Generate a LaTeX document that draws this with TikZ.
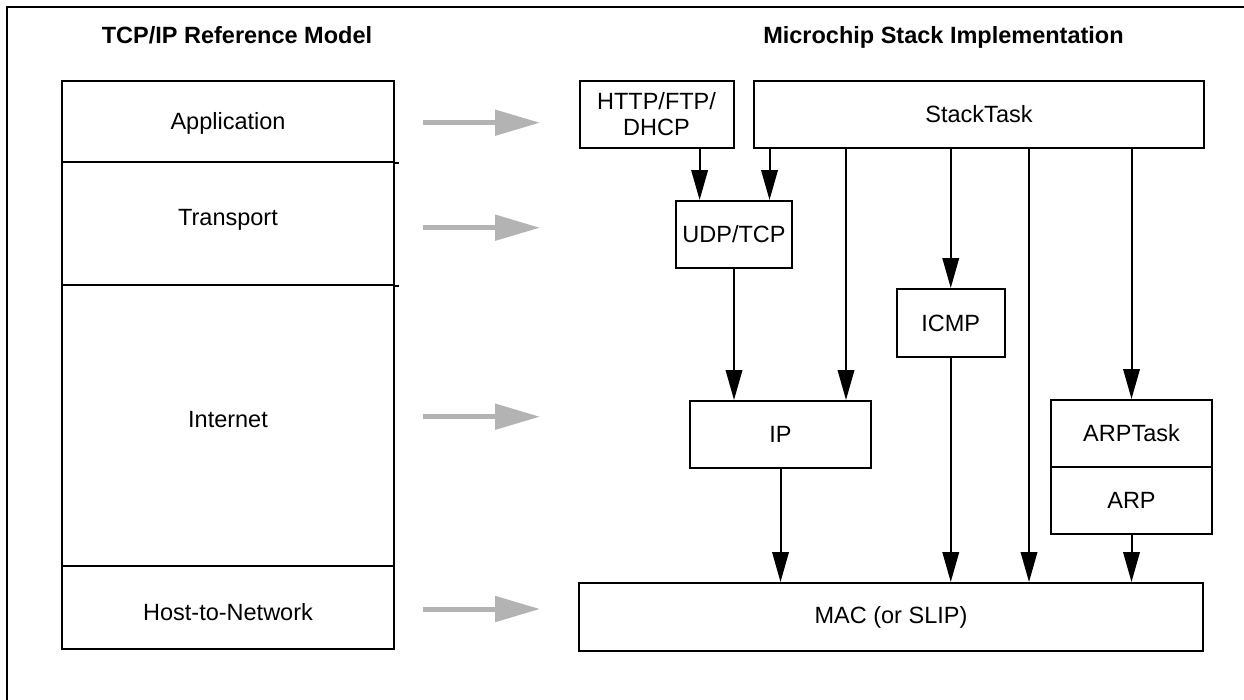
\documentclass[tikz,border=0pt]{standalone}
\usepackage{fontspec}
\setmainfont{Liberation Sans}
\usetikzlibrary{arrows.meta}
\definecolor{arrowgray}{HTML}{B3B3B3}
\tikzset{
  blk/.style={draw, line width=2pt, inner sep=0pt, anchor=center, align=center,
    font=\fontsize{23.5}{26}\selectfont},
  lbl/.style={inner sep=0pt, anchor=base, font=\fontsize{23.5}{26}\selectfont},
  ttl/.style={inner sep=0pt, anchor=base, font=\fontsize{23.5}{26}\selectfont\bfseries},
  conn/.style={line width=2pt, -{Triangle[length=30pt,width=16.5pt]}},
  maparrow/.style={line width=5pt, draw=arrowgray, -{Triangle[length=45pt,width=25pt,fill=arrowgray]}},
  frameline/.style={line width=2pt}
}
\begin{document}
\begin{tikzpicture}[x=1pt,y=-1pt]
\useasboundingbox (0,0) rectangle (1244,699);
% frame (only top and left edges fall inside the picture)
\coordinate (fbl) at (7,710);
\coordinate (ftl) at (7,7);
\coordinate (ftr) at (1255,7);
\draw[frameline] (fbl) -- (ftl) -- (ftr);

% titles
\node[ttl] (t1) at (237,43.5) {TCP/IP Reference Model};
\node[ttl] (t2) at (943.5,43.5) {Microchip Stack Implementation};

% reference model layers
\node[blk, minimum width=332pt, minimum height=81pt] (app) at (228,121.5) {};
\node[blk, minimum width=332pt, minimum height=123pt] (trans) at (228,223.5) {};
\node[blk, minimum width=332pt, minimum height=281pt] (inet) at (228,425.5) {};
\node[blk, minimum width=332pt, minimum height=83pt] (host) at (228,607.5) {};
\draw[line width=2pt] (app.south east) -- ++(3.5,0);
\draw[line width=2pt] (trans.south east) -- ++(3.5,0);

\node[lbl] (tapp) at (228,129) {Application};
\node[lbl] (ttrans) at (228,225) {Transport};
\node[lbl] (tinet) at (228,427) {Internet};
\node[lbl] (thost) at (228,620) {Host-to-Network};

% gray mapping arrows
\coordinate (g1a) at (423,122.7); \coordinate (g1b) at (540,122.7);
\coordinate (g2a) at (423,227.7); \coordinate (g2b) at (540,227.7);
\coordinate (g3a) at (423,416.7); \coordinate (g3b) at (540,416.7);
\coordinate (g4a) at (423,609);   \coordinate (g4b) at (540,609);
\draw[maparrow] (g1a) -- (g1b);
\draw[maparrow] (g2a) -- (g2b);
\draw[maparrow] (g3a) -- (g3b);
\draw[maparrow] (g4a) -- (g4b);

% stack implementation
\node[blk, minimum width=154pt, minimum height=67pt] (http) at (656.5,114.5) {HTTP/FTP/\\DHCP};
\node[blk, minimum width=450pt, minimum height=67pt] (stack) at (979,114.5) {StackTask};
\node[blk, minimum width=116pt, minimum height=67pt] (udp) at (734,234.5) {UDP/TCP};
\node[blk, minimum width=107.5pt, minimum height=68pt] (icmp) at (950.75,323) {ICMP};
\node[blk, minimum width=181pt, minimum height=67pt] (ip) at (780.5,434.5) {IP};
\node[blk, minimum width=161pt, minimum height=67pt] (arptask) at (1131.5,433.5) {ARPTask};
\node[blk, minimum width=161pt, minimum height=67pt] (arp) at (1131.5,500.5) {ARP};
\node[blk, minimum width=624pt, minimum height=68pt] (mac) at (891,617) {MAC (or SLIP)};

% connector columns
\coordinate (cA) at (699.6,0);
\coordinate (cB) at (769.5,0);
\coordinate (cD) at (846,0);
\coordinate (cF) at (1029,0);

\draw[conn] (cA |- http.south) -- (cA |- udp.north);
\draw[conn] (cB |- stack.south) -- (cB |- udp.north);
\draw[conn] (udp.south) -- (udp.south |- ip.north);
\draw[conn] (cD |- stack.south) -- (cD |- ip.north);
\draw[conn] (icmp.north |- stack.south) -- (icmp.north);
\draw[conn] (icmp.south) -- (icmp.south |- mac.north);
\draw[conn] (cF |- stack.south) -- (cF |- mac.north);
\draw[conn] (arptask.north |- stack.south) -- (arptask.north);
\draw[conn] (ip.south) -- (ip.south |- mac.north);
\draw[conn] (arp.south) -- (arp.south |- mac.north);
\end{tikzpicture}
\end{document}
